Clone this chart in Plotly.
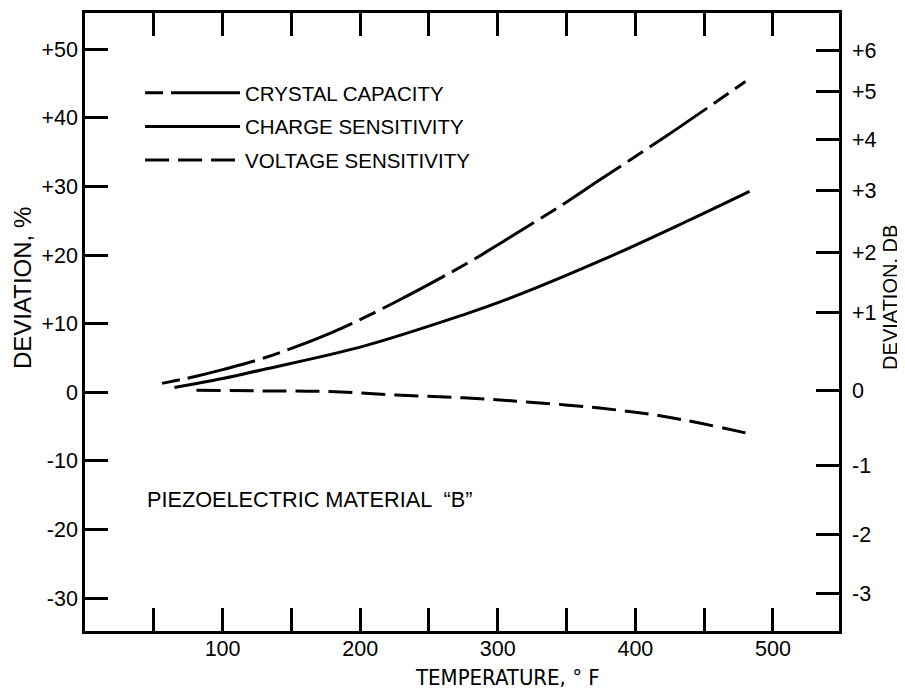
import plotly.graph_objects as go

# ---- data ----
crystal_T = [56, 80, 100, 130, 178, 226, 282, 304, 352, 372, 422, 480]
crystal_pct = [1.3, 2.3, 3.3, 5.0, 8.6, 13.2, 19.3, 22.0, 28.0, 30.7, 37.3, 45.3]

charge_T = [65, 100, 129, 202, 275, 306, 376, 437, 483]
charge_pct = [0.7, 2.0, 3.3, 6.7, 11.3, 13.5, 19.3, 24.9, 29.3]

voltage_T = [81, 130, 178, 226, 275, 321, 374, 422, 482]
voltage_pct = [0.3, 0.2, 0.1, -0.4, -0.8, -1.4, -2.3, -3.55, -6.0]

series_names = ["CRYSTAL CAPACITY", "CHARGE SENSITIVITY", "VOLTAGE SENSITIVITY"]

x_tick_vals = [50, 100, 150, 200, 250, 300, 350, 400, 450, 500]
x_tick_text = ["", "100", "", "200", "", "300", "", "400", "", "500"]

pct_tick_vals = [-30, -20, -10, 0, 10, 20, 30, 40, 50]
pct_tick_text = ["-30", "-20", "-10", "0", "+10", "+20", "+30", "+40", "+50"]

# dB scale marks, located on the % scale as drawn in the reference
db_tick_pos = [-29.4, -20.7, -10.6, 0.2, 11.6, 20.4, 29.4, 36.8, 43.8, 49.9]
db_tick_text = ["-3", "-2", "-1", "0", "+1", "+2", "+3", "+4", "+5", "+6"]

x_title = "TEMPERATURE, \u00b0 F"
y_title = "DEVIATION, %"
y2_title = "DEVIATION, DB"
note_text = 'PIEZOELECTRIC MATERIAL  \u201cB\u201d'

x_range = [0, 548]
y_range = [-34.8, 55.3]

FONT = "Liberation Sans, Arial, sans-serif"
NARROW = "Liberation Sans Narrow, Arial Narrow, DejaVu Sans Condensed, sans-serif"

fig = go.Figure()
# y and y2 share the same range, so the curves sit identically on either axis
fig.add_trace(go.Scatter(x=crystal_T, y=crystal_pct, mode="lines", name=series_names[0], legendgroup="a",
                         line=dict(color="black", width=3, shape="spline", dash="18px,8px,70px,8px")))
fig.add_trace(go.Scatter(x=charge_T, y=charge_pct, mode="lines", name=series_names[1], legendgroup="b",
                         line=dict(color="black", width=3, shape="spline")))
fig.add_trace(go.Scatter(x=voltage_T, y=voltage_pct, mode="lines", name=series_names[2], legendgroup="c",
                         yaxis="y2",
                         line=dict(color="black", width=3, shape="spline", dash="24px,9px")))

fig.add_annotation(text=note_text, x=0, y=-15.7, xref="x", yref="y",
                   xanchor="left", yanchor="middle", showarrow=False,
                   font=dict(family=FONT, size=21.7, color="black"), xshift=60)

# axis titles placed where the reference draws them (not centred on the axes)
fig.add_annotation(text=x_title, x=0.561, y=0, xref="paper", yref="paper", xanchor="center",
                   yanchor="middle", yshift=-46, showarrow=False,
                   font=dict(family=NARROW, size=22, color="black"))
fig.add_annotation(text=y_title, x=0, y=0.555, xref="paper", yref="paper", xanchor="center",
                   yanchor="middle", xshift=-63, textangle=-90, showarrow=False,
                   font=dict(family=FONT, size=24, color="black"))
fig.add_annotation(text=y2_title, x=1, y=0.539, xref="paper", yref="paper", xanchor="center",
                   yanchor="middle", xshift=51, textangle=-90, showarrow=False,
                   font=dict(family=FONT, size=20, color="black"))

axis_common = dict(showgrid=False, zeroline=False, showline=True, linecolor="black", linewidth=2.5,
                   ticks="inside", ticklen=23, tickwidth=2.5, tickcolor="black", automargin=False)

# the page body adds an 8px offset, so the figure is sized 8px smaller than the window
fig.update_layout(
    width=897, height=688,
    margin=dict(l=77, r=66, t=5, b=65),
    paper_bgcolor="white", plot_bgcolor="white",
    font=dict(family=FONT, color="black"),
    showlegend=True,
    legend=dict(x=0.073, y=0.903, xanchor="left", yanchor="top", bgcolor="rgba(0,0,0,0)",
                font=dict(family=FONT, size=20.5, color="black"), itemwidth=95, tracegroupgap=4),
    xaxis=dict(range=x_range, tickvals=x_tick_vals, ticktext=x_tick_text, mirror="ticks",
               tickfont=dict(family=FONT, size=21.5), ticklabelstandoff=-4,
               **axis_common),
    yaxis=dict(range=y_range, tickvals=pct_tick_vals, ticktext=pct_tick_text,
               tickfont=dict(family=FONT, size=21.5),
               **axis_common),
    yaxis2=dict(range=y_range, overlaying="y", side="right", tickvals=db_tick_pos, ticktext=db_tick_text,
                tickfont=dict(family=FONT, size=21.5), ticklabelstandoff=6,
                **axis_common),
)

fig.write_html("out.html")
